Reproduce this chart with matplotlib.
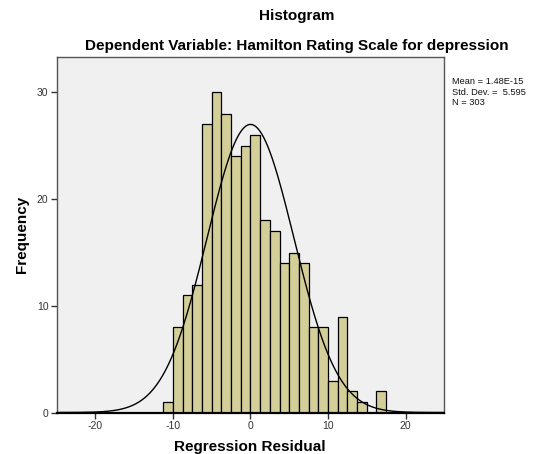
import numpy as np
import matplotlib
matplotlib.use('Agg')
from matplotlib import pyplot as plt

plt.rcParams['font.family'] = ['Liberation Sans', 'DejaVu Sans']
plt.rcParams['axes.unicode_minus'] = False

# histogram bins (regression residual) and counts
bin_edges = [-11.25, -10.0, -8.75, -7.5, -6.25, -5.0, -3.75, -2.5, -1.25, 0.0,
             1.25, 2.5, 3.75, 5.0, 6.25, 7.5, 8.75, 10.0, 11.25, 12.5,
             13.75, 15.0, 16.25, 17.5]
counts = [1, 8, 11, 12, 27, 30, 28, 24, 25, 26,
          18, 17, 14, 15, 14, 8, 8, 3, 9, 2,
          1, 0, 2]

mean = 1.48e-15
std_dev = 5.595
n = 303

x_ticks = [-20, -10, 0, 10, 20]
y_ticks = [0, 10, 20, 30]

fig = plt.figure(figsize=(5.34, 4.54), dpi=100)
ax = fig.add_axes([0.1062, 0.0914, 0.7258, 0.7824])
ax.set_facecolor('#f0f0f0')

# bars
bin_lefts = bin_edges[:-1]
ax.hist(bin_lefts, bins=bin_edges, weights=counts,
        color='#d4cf98', edgecolor='black', linewidth=0.9)

# normal curve
bw = bin_edges[1] - bin_edges[0]
xs = np.linspace(-25, 25, 400)
ys = n * bw / (std_dev * np.sqrt(2 * np.pi)) * np.exp(-0.5 * ((xs - mean) / std_dev) ** 2)
ax.plot(xs, ys, color='black', linewidth=1.0)

ax.set_xlim(-25, 25)
ax.set_ylim(0, 33.3)
ax.set_xticks(x_ticks)
ax.set_yticks(y_ticks)
ax.tick_params(labelsize=7.5, labelcolor='#333333', length=4, width=1, color='#333333',
               direction='out', pad=2)

for s in ['left', 'top', 'right']:
    ax.spines[s].set_color('#555555')
    ax.spines[s].set_linewidth(1.0)
ax.spines['bottom'].set_color('black')
ax.spines['bottom'].set_linewidth(1.6)

fig.text(0.468, 0.016, 'Regression Residual', ha='center', va='center',
         fontsize=11, fontweight='bold')
fig.text(0.041, 0.484, 'Frequency', ha='center', va='center', rotation=90,
         fontsize=11, fontweight='bold')

fig.text(0.555, 0.964, 'Histogram', ha='center', va='center', fontsize=11, fontweight='bold')
fig.text(0.555, 0.899, 'Dependent Variable: Hamilton Rating Scale for depression',
         ha='center', va='center', fontsize=11, fontweight='bold')

fig.text(0.846, 0.797, 'Mean = 1.48E-15\nStd. Dev. =  5.595\nN = 303',
         ha='left', va='center', fontsize=6.7, linespacing=1.25, color='#111111')

fig.savefig('out.png', dpi=100)
